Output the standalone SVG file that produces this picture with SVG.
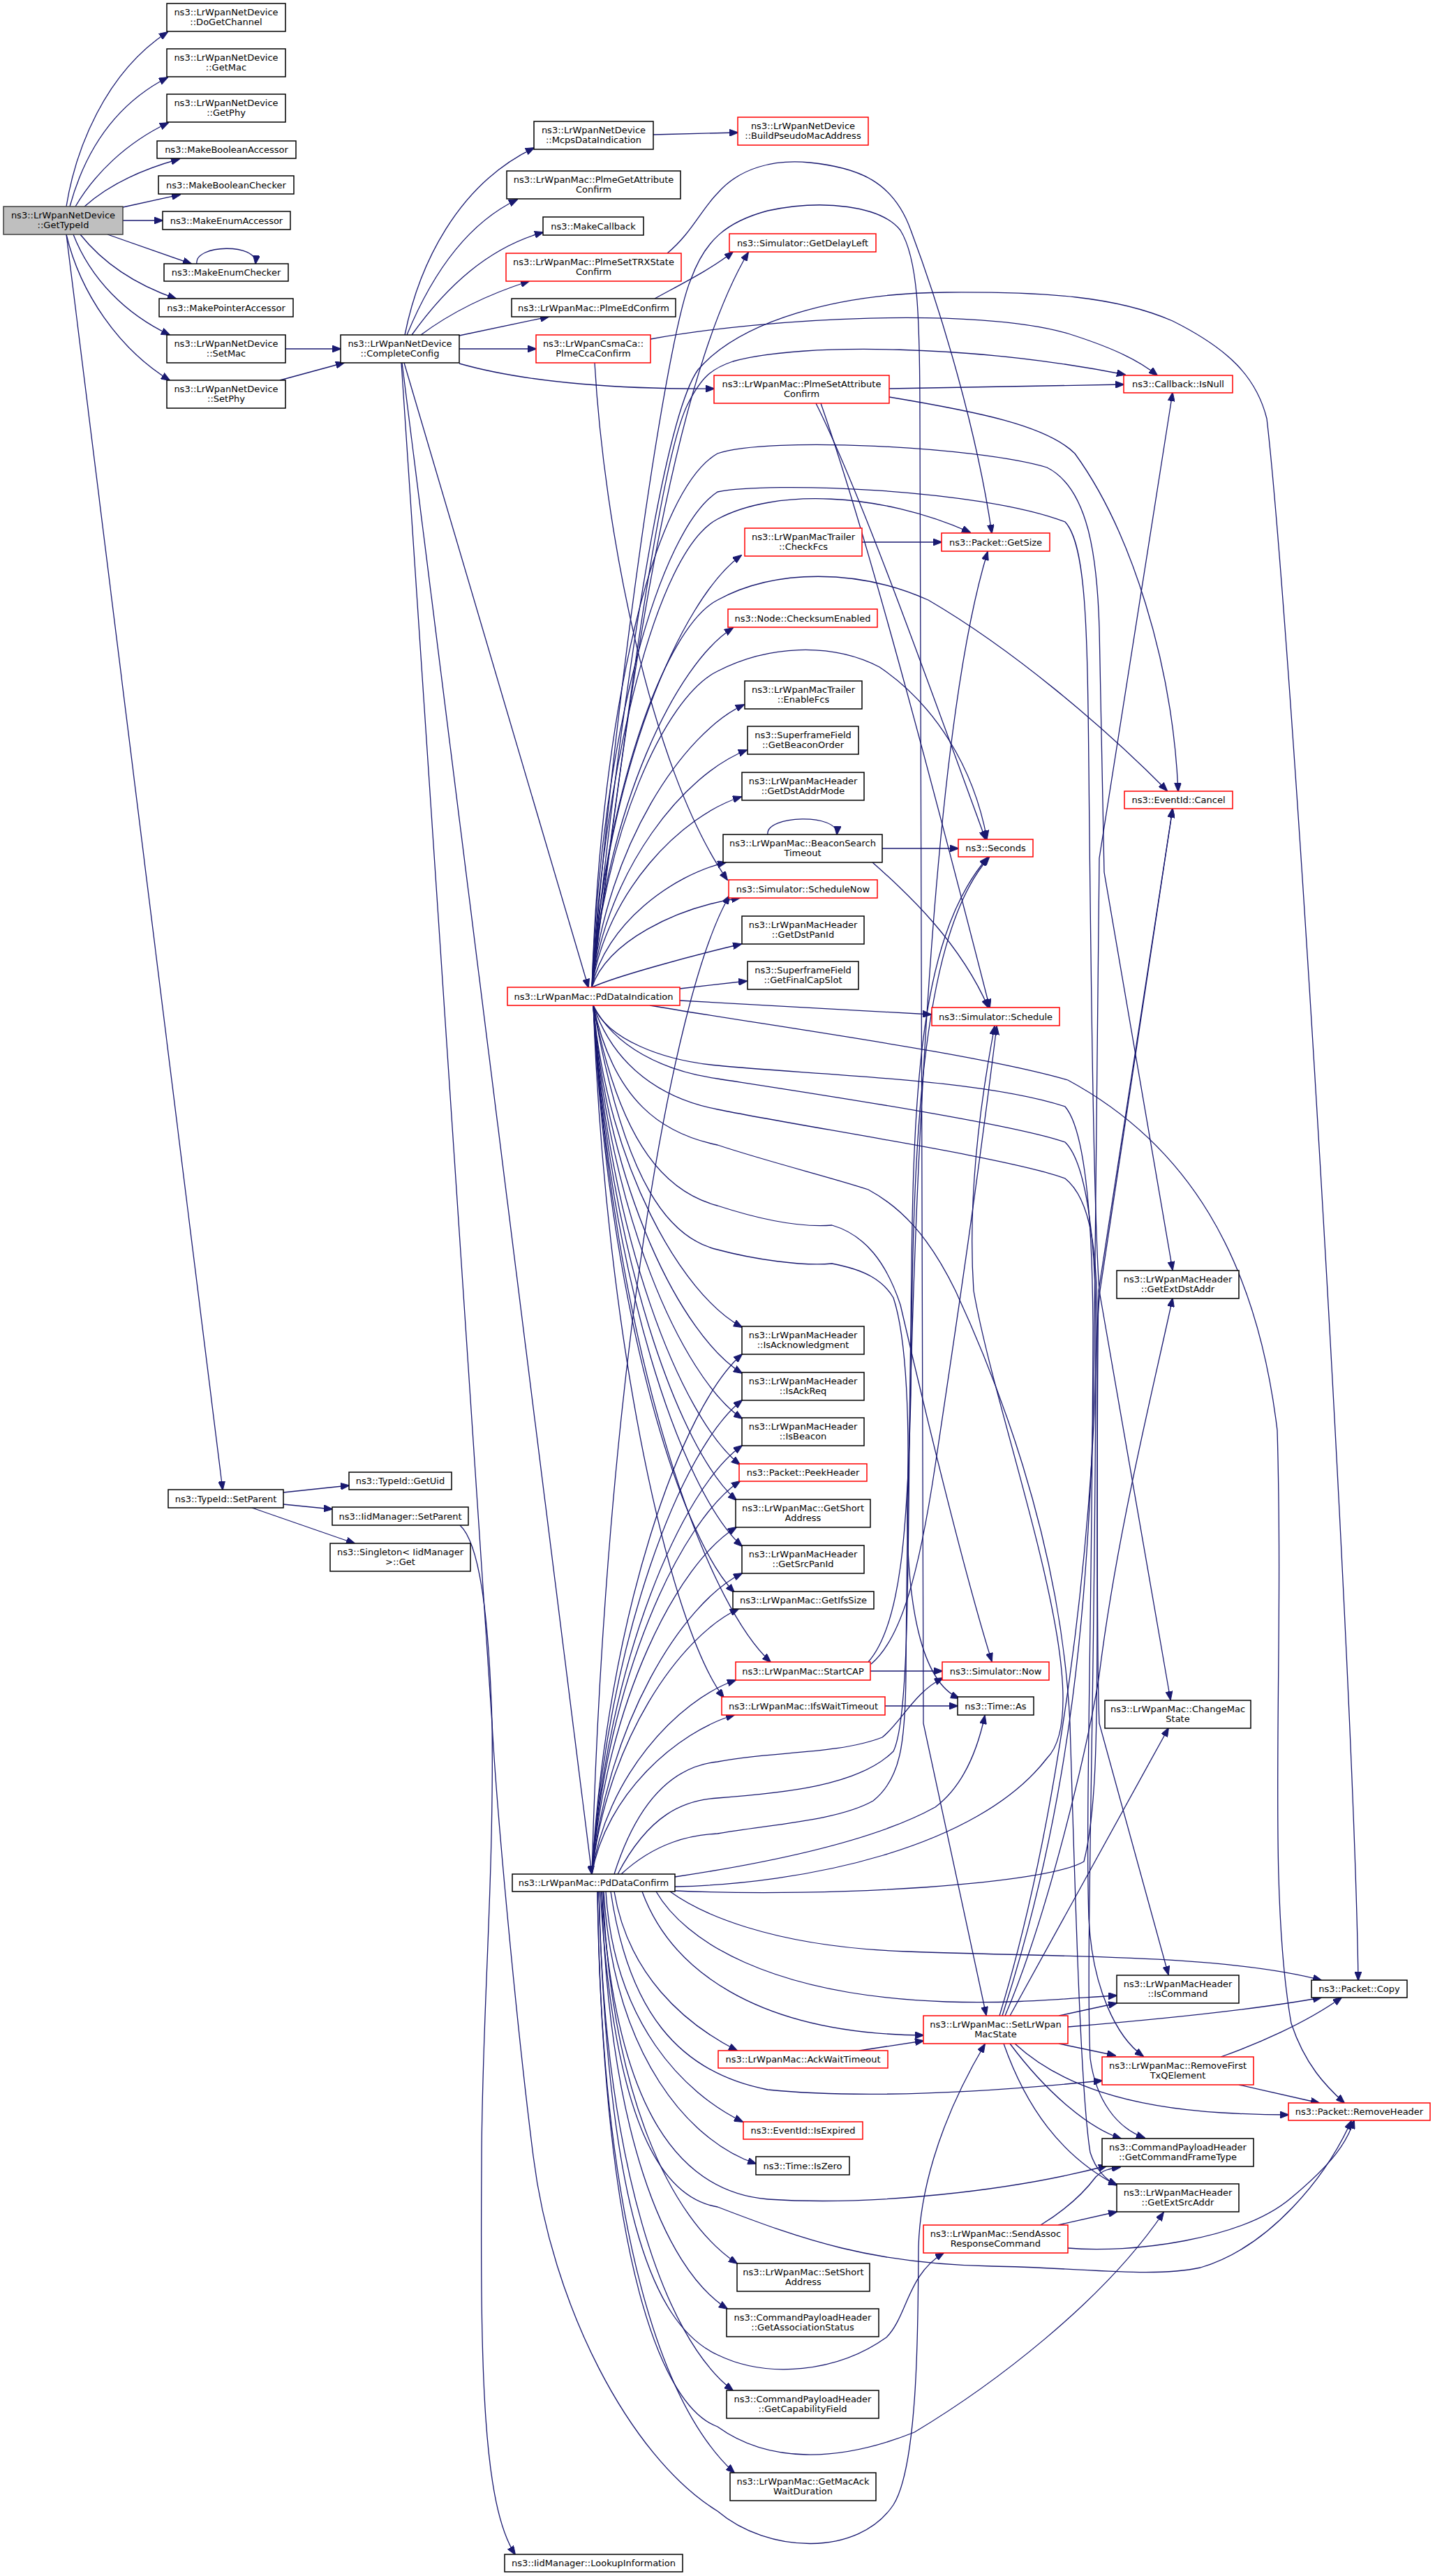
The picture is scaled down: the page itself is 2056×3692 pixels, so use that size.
<svg xmlns="http://www.w3.org/2000/svg" width="2056" height="3692" viewBox="0 0 2056 3692">
<defs>
<style>
.e{fill:none;stroke:#191970;stroke-width:1.3;marker-end:url(#a)}
.n rect{fill:#ffffff;stroke:#000000;stroke-width:1.5}
.r rect{stroke:#ff0000}
.root rect{fill:#bfbfbf;stroke:#404040}
text{font-family:"DejaVu Sans","Liberation Sans",sans-serif;font-size:13px;text-anchor:middle;fill:#000000}
</style>
<marker id="a" markerWidth="13" markerHeight="10" refX="12" refY="5" orient="auto" markerUnits="userSpaceOnUse"><path d="M0,0 L13,5 L0,10 z" fill="#191970" stroke="#191970" stroke-width="1"/></marker>
</defs>
<rect x="0" y="0" width="2056" height="3692" fill="#ffffff"/>
<g id="connectors">
<path class="e" d="M95,296 C108,215 150,105 240,46"/>
<path class="e" d="M100,296 C118,230 155,155 240,111"/>
<path class="e" d="M108,296 C135,250 180,205 241,176"/>
<path class="e" d="M121,296 C150,270 195,245 257,228"/>
<path class="e" d="M176,297 L258,279"/>
<path class="e" d="M176,316 L233,316"/>
<path class="e" d="M154,336 L274,378"/>
<path class="e" d="M115,336 C150,380 200,410 252,428"/>
<path class="e" d="M105,336 C130,400 180,450 243,480"/>
<path class="e" d="M95,336 C115,420 170,500 243,545"/>
<path class="e" d="M95,336 L319,2135"/>
<path class="e" d="M282,378 C278,350 370,348 366,378"/>
<path class="e" d="M409,500 L488,500"/>
<path class="e" d="M401,545 L493,520"/>
<path class="e" d="M580,480 C600,380 655,265 765,212"/>
<path class="e" d="M583,480 C620,390 670,320 741,286"/>
<path class="e" d="M590,480 C640,410 700,355 778,333"/>
<path class="e" d="M603,480 C650,445 705,420 758,403"/>
<path class="e" d="M658,481 L786,454"/>
<path class="e" d="M658,500 L768,500"/>
<path class="e" d="M658,521 C760,550 900,558 1023,557"/>
<path class="e" d="M579,520 L843,1415"/>
<path class="e" d="M576,520 L848,2686"/>
<path class="e" d="M575,520 L705,2470 C712,2600 740,2900 764,3090 C790,3300 900,3520 1028,3599 C1100,3660 1230,3665 1280,3590 C1318,3530 1315,3300 1316,3220 C1318,3150 1340,3050 1411,2930"/>
<path class="e" d="M936,193 L1057,190"/>
<path class="e" d="M956,363 C990,335 1005,300 1028,277 C1060,240 1110,228 1160,233 C1230,240 1280,260 1305,330 C1350,450 1400,620 1421,764"/>
<path class="e" d="M938,428 C980,405 1020,385 1050,361"/>
<path class="e" d="M932,486 C1100,455 1400,440 1530,478 C1590,497 1630,515 1658,538"/>
<path class="e" d="M852,520 C865,750 930,1100 1042,1261"/>
<path class="e" d="M1274,557 L1610,551"/>
<path class="e" d="M1274,569 C1400,590 1500,610 1540,650 C1620,760 1680,950 1688,1134"/>
<path class="e" d="M1169,578 C1230,700 1320,950 1412,1203"/>
<path class="e" d="M1176,578 C1240,760 1330,1100 1418,1444"/>
<path class="e" d="M1235,777 L1349,777"/>
<path class="e" d="M1264,1216 L1373,1216"/>
<path class="e" d="M1250,1236 C1300,1280 1375,1350 1416,1444"/>
<path class="e" d="M1100,1196 C1096,1168 1202,1165 1199,1196"/>
<path class="e" d="M406,2139 L500,2129"/>
<path class="e" d="M406,2156 L476,2163"/>
<path class="e" d="M361,2161 L508,2212"/>
<path class="e" d="M659,2186 C685,2210 700,2300 705,2470 C708,2700 690,2900 690,3100 C688,3400 692,3590 738,3661"/>
<path class="e" d="M848,1415 C900,1000 960,550 1072,362"/>
<path class="e" d="M848,1415 C895,1050 945,660 985,580 C1005,540 1020,528 1050,518 C1150,490 1400,495 1612,537"/>
<path class="e" d="M848,1415 C890,1000 950,600 1000,530 C1060,460 1200,420 1356,419 C1500,418 1600,425 1680,460 C1760,500 1800,540 1815,600 C1850,900 1940,2400 1946,2838"/>
<path class="e" d="M848,1415 C880,1000 955,480 990,400 C1010,345 1040,318 1100,302 C1180,285 1262,295 1290,330 C1315,370 1318,450 1318,600 L1323,2470 L1413,2888"/>
<path class="e" d="M848,1415 C865,1100 940,790 1028,744 C1110,700 1260,705 1390,763"/>
<path class="e" d="M848,1415 C869,1105 976,858 1062,796"/>
<path class="e" d="M848,1415 C865,1150 950,900 1028,860 C1110,815 1230,815 1330,860 C1450,930 1580,1040 1672,1133"/>
<path class="e" d="M848,1415 C868,1157 969,951 1050,900"/>
<path class="e" d="M848,1415 C865,1200 950,1000 1028,962 C1100,925 1190,920 1260,956 C1340,1010 1395,1100 1414,1202"/>
<path class="e" d="M848,1415 C870,1212 979,1050 1066,1010"/>
<path class="e" d="M848,1415 C870,1245 981,1109 1070,1075"/>
<path class="e" d="M848,1415 C869,1278 976,1169 1062,1142"/>
<path class="e" d="M848,1415 C867,1325 963,1254 1040,1236"/>
<path class="e" d="M848,1415 C870,1350 967,1301 1060,1287"/>
<path class="e" d="M848,1415 C880,1400 990,1370 1062,1353"/>
<path class="e" d="M974,1417 L1070,1406"/>
<path class="e" d="M974,1434 L1334,1454"/>
<path class="e" d="M848,1415 C862,1000 940,700 1028,650 C1100,625 1400,640 1500,670 C1560,700 1572,800 1575,900 C1578,1050 1580,1150 1582,1250 L1680,1820"/>
<path class="e" d="M848,1415 C862,1050 945,760 1028,705 C1100,690 1400,700 1526,748 C1556,780 1558,900 1560,1100 C1564,1500 1568,1750 1575,1850 L1677,2436"/>
<path class="e" d="M850,1441 C870,1490 950,1520 1028,1527 C1150,1540 1400,1545 1526,1586 C1555,1620 1565,1750 1566,1900 C1565,2300 1555,2600 1560,2750 C1565,2850 1600,2920 1638,2947"/>
<path class="e" d="M850,1441 C880,1500 950,1535 1028,1546 C1150,1565 1450,1610 1526,1637 C1560,1670 1570,1800 1570,1900 C1570,2400 1555,2800 1562,2950 C1570,3010 1600,3050 1640,3064"/>
<path class="e" d="M850,1441 C880,1530 950,1575 1028,1590 C1150,1615 1450,1660 1526,1689 C1565,1720 1572,1800 1572,1900 C1572,2200 1572,2400 1575,2470 L1674,2830"/>
<path class="e" d="M850,1441 C880,1580 950,1625 1028,1641 C1100,1665 1200,1690 1244,1705 C1290,1730 1330,1770 1369,1850 C1420,1960 1520,2200 1533,2470 C1540,2700 1548,3000 1562,3085 C1570,3110 1585,3125 1600,3131"/>
<path class="e" d="M931,1441 C1100,1470 1400,1510 1530,1548 C1700,1640 1800,1800 1830,2050 C1840,2400 1815,2700 1850,2900 C1870,2960 1900,2990 1926,3014"/>
<path class="e" d="M850,1441 C890,1650 960,1710 1028,1728 C1080,1745 1140,1760 1192,1756 C1240,1770 1270,1810 1290,1870 C1320,2000 1380,2250 1421,2381"/>
<path class="e" d="M850,1441 C895,1700 960,1775 1028,1791 C1080,1805 1150,1815 1192,1811 C1240,1820 1265,1835 1280,1860 C1300,1920 1303,2048 1300,2150 C1298,2300 1320,2410 1374,2434"/>
<path class="e" d="M850,1441 C871,1672 977,1856 1063,1902"/>
<path class="e" d="M850,1441 C871,1705 977,1915 1063,1968"/>
<path class="e" d="M850,1441 C871,1737 977,1974 1063,2033"/>
<path class="e" d="M850,1441 C871,1770 976,2033 1060,2099"/>
<path class="e" d="M850,1441 C871,1796 974,2079 1055,2150"/>
<path class="e" d="M850,1441 C871,1829 977,2138 1063,2216"/>
<path class="e" d="M850,1441 C870,1862 971,2198 1052,2282"/>
<path class="e" d="M850,1441 C876,1912 1003,2288 1104,2382"/>
<path class="e" d="M850,1441 C869,1938 962,2335 1037,2433"/>
<path class="e" d="M848,2686 C868,2572 970,2482 1052,2458"/>
<path class="e" d="M848,2686 C868,2548 970,2437 1054,2408"/>
<path class="e" d="M848,2686 C869,2496 974,2345 1058,2306"/>
<path class="e" d="M848,2686 C870,2470 977,2298 1063,2255"/>
<path class="e" d="M848,2686 C869,2437 972,2239 1055,2189"/>
<path class="e" d="M848,2686 C869,2405 975,2180 1060,2123"/>
<path class="e" d="M848,2686 C870,2379 977,2133 1063,2072"/>
<path class="e" d="M848,2686 C870,2346 977,2075 1063,2007"/>
<path class="e" d="M848,2686 C870,2313 977,2016 1063,1941"/>
<path class="e" d="M848,2686 C867,1987 961,1428 1045,1284"/>
<path class="e" d="M880,2686 C920,2560 980,2530 1028,2525 C1100,2510 1200,2515 1264,2490 C1290,2470 1310,2425 1351,2405"/>
<path class="e" d="M885,2686 C930,2600 980,2580 1028,2577 C1120,2570 1230,2560 1280,2510 C1305,2460 1300,2200 1305,1900 C1308,1600 1310,1350 1415,1229"/>
<path class="e" d="M890,2686 C940,2640 990,2630 1028,2628 C1100,2615 1200,2610 1251,2581 C1290,2550 1297,2500 1298,2400 C1300,2000 1320,1100 1415,791"/>
<path class="e" d="M967,2690 C1100,2670 1250,2640 1340,2590 C1380,2560 1400,2510 1411,2459"/>
<path class="e" d="M967,2704 C1150,2700 1400,2650 1500,2520 C1580,2440 1430,2050 1395,1850 C1385,1700 1410,1550 1425,1471"/>
<path class="e" d="M967,2710 C1200,2720 1500,2700 1553,2668 C1570,2600 1572,2500 1572,2300 C1572,2100 1572,1950 1574,1850 L1680,1160"/>
<path class="e" d="M960,2711 C1000,2740 1100,2790 1300,2797 C1500,2805 1750,2800 1893,2838"/>
<path class="e" d="M940,2711 C980,2780 1100,2860 1356,2869 C1450,2872 1520,2865 1600,2860"/>
<path class="e" d="M920,2711 C960,2820 1080,2915 1323,2917"/>
<path class="e" d="M880,2711 C900,2830 980,2900 1056,2939"/>
<path class="e" d="M875,2711 C900,2880 970,2970 1100,2995 C1250,3010 1450,2995 1579,2982"/>
<path class="e" d="M868,2711 C880,2900 980,3000 1064,3041"/>
<path class="e" d="M865,2711 C880,2950 990,3070 1083,3101"/>
<path class="e" d="M862,2711 C880,3000 960,3140 1100,3152 C1250,3162 1450,3140 1586,3104"/>
<path class="e" d="M860,2711 C880,3050 950,3150 1028,3163 C1150,3210 1250,3245 1421,3248 C1550,3250 1650,3265 1720,3250 C1820,3220 1900,3120 1936,3040"/>
<path class="e" d="M858,2711 C870,3150 930,3330 1028,3375 C1100,3410 1200,3400 1270,3350 C1300,3320 1300,3260 1352,3229"/>
<path class="e" d="M856,2711 C865,3250 950,3450 1028,3478 C1100,3530 1200,3530 1310,3486 C1420,3420 1580,3300 1667,3171"/>
<path class="e" d="M864,2711 C875,3000 960,3180 1056,3244"/>
<path class="e" d="M862,2711 C872,3050 950,3250 1042,3309"/>
<path class="e" d="M858,2711 C866,3100 950,3350 1050,3426"/>
<path class="e" d="M856,2711 C862,3200 950,3450 1052,3544"/>
<path class="e" d="M1247,2395 L1350,2395"/>
<path class="e" d="M1244,2382 C1290,2330 1300,2200 1305,2000 C1308,1700 1310,1350 1417,1229"/>
<path class="e" d="M1248,2385 C1290,2350 1316,2260 1340,2100 C1370,1900 1400,1700 1428,1471"/>
<path class="e" d="M1268,2445 L1372,2445"/>
<path class="e" d="M1231,2939 L1323,2925"/>
<path class="e" d="M1517,2889 L1600,2871"/>
<path class="e" d="M1530,2905 C1650,2895 1800,2880 1893,2863"/>
<path class="e" d="M1517,2929 L1598,2946"/>
<path class="e" d="M1454,2929 C1520,2990 1620,3020 1750,3028 C1800,3031 1820,3031 1846,3031"/>
<path class="e" d="M1447,2929 C1500,3000 1560,3050 1606,3065"/>
<path class="e" d="M1438,2929 C1470,3020 1520,3090 1600,3132"/>
<path class="e" d="M1447,2889 L1674,2477"/>
<path class="e" d="M1440,2889 C1500,2750 1560,2500 1575,2400 C1600,2200 1650,2000 1680,1861"/>
<path class="e" d="M1436,2889 C1530,2600 1566,2300 1568,1900 C1570,1600 1572,1350 1575,1230 L1680,563"/>
<path class="e" d="M1432,2889 C1520,2600 1566,2200 1570,1950 C1572,1900 1574,1870 1576,1850 L1680,1159"/>
<path class="e" d="M1749,2948 C1800,2930 1870,2900 1922,2863"/>
<path class="e" d="M1775,2988 L1890,3014"/>
<path class="e" d="M1491,3189 C1530,3165 1555,3140 1570,3120 C1580,3110 1590,3108 1605,3106"/>
<path class="e" d="M1516,3189 L1600,3170"/>
<path class="e" d="M1530,3222 C1620,3230 1780,3210 1850,3150 C1910,3100 1930,3070 1940,3039"/>
</g>
<g id="n0" class="n root"><rect x="5" y="296" width="171" height="40"/><text x="90.5" y="312.5">ns3::LrWpanNetDevice</text><text x="90.5" y="327">::GetTypeId</text></g>
<g id="n1" class="n"><rect x="239" y="5" width="170" height="40"/><text x="324" y="21.5">ns3::LrWpanNetDevice</text><text x="324" y="36">::DoGetChannel</text></g>
<g id="n2" class="n"><rect x="239" y="70" width="170" height="40"/><text x="324" y="86.5">ns3::LrWpanNetDevice</text><text x="324" y="101">::GetMac</text></g>
<g id="n3" class="n"><rect x="239" y="135" width="170" height="40"/><text x="324" y="151.5">ns3::LrWpanNetDevice</text><text x="324" y="166">::GetPhy</text></g>
<g id="n4" class="n"><rect x="225" y="202" width="199" height="25"/><text x="324.5" y="219">ns3::MakeBooleanAccessor</text></g>
<g id="n5" class="n"><rect x="227" y="252" width="194" height="26"/><text x="324" y="269.5">ns3::MakeBooleanChecker</text></g>
<g id="n6" class="n"><rect x="233" y="303" width="183" height="26"/><text x="324.5" y="320.5">ns3::MakeEnumAccessor</text></g>
<g id="n7" class="n"><rect x="235" y="378" width="178" height="25"/><text x="324" y="395">ns3::MakeEnumChecker</text></g>
<g id="n8" class="n"><rect x="228" y="428" width="192" height="26"/><text x="324" y="445.5">ns3::MakePointerAccessor</text></g>
<g id="n9" class="n"><rect x="239" y="480" width="170" height="40"/><text x="324" y="496.5">ns3::LrWpanNetDevice</text><text x="324" y="511">::SetMac</text></g>
<g id="n10" class="n"><rect x="239" y="545" width="170" height="40"/><text x="324" y="561.5">ns3::LrWpanNetDevice</text><text x="324" y="576">::SetPhy</text></g>
<g id="n11" class="n"><rect x="488" y="480" width="170" height="40"/><text x="573" y="496.5">ns3::LrWpanNetDevice</text><text x="573" y="511">::CompleteConfig</text></g>
<g id="n12" class="n"><rect x="765" y="174" width="171" height="40"/><text x="850.5" y="190.5">ns3::LrWpanNetDevice</text><text x="850.5" y="205">::McpsDataIndication</text></g>
<g id="n13" class="n"><rect x="726" y="245" width="249" height="40"/><text x="850.5" y="261.5">ns3::LrWpanMac::PlmeGetAttribute</text><text x="850.5" y="276">Confirm</text></g>
<g id="n14" class="n"><rect x="778" y="311" width="144" height="26"/><text x="850" y="328.5">ns3::MakeCallback</text></g>
<g id="n15" class="n r"><rect x="725" y="363" width="251" height="40"/><text x="850.5" y="379.5">ns3::LrWpanMac::PlmeSetTRXState</text><text x="850.5" y="394">Confirm</text></g>
<g id="n16" class="n"><rect x="733" y="428" width="235" height="26"/><text x="850.5" y="445.5">ns3::LrWpanMac::PlmeEdConfirm</text></g>
<g id="n17" class="n r"><rect x="768" y="480" width="164" height="40"/><text x="850" y="496.5">ns3::LrWpanCsmaCa::</text><text x="850" y="511">PlmeCcaConfirm</text></g>
<g id="n18" class="n r"><rect x="1057" y="168" width="187" height="40"/><text x="1150.5" y="184.5">ns3::LrWpanNetDevice</text><text x="1150.5" y="199">::BuildPseudoMacAddress</text></g>
<g id="n19" class="n r"><rect x="1045" y="335" width="210" height="26"/><text x="1150" y="352.5">ns3::Simulator::GetDelayLeft</text></g>
<g id="n20" class="n r"><rect x="1023" y="538" width="251" height="40"/><text x="1148.5" y="554.5">ns3::LrWpanMac::PlmeSetAttribute</text><text x="1148.5" y="569">Confirm</text></g>
<g id="n21" class="n r"><rect x="1610" y="538" width="156" height="25"/><text x="1688" y="555">ns3::Callback::IsNull</text></g>
<g id="n22" class="n r"><rect x="1067" y="757" width="168" height="40"/><text x="1151" y="773.5">ns3::LrWpanMacTrailer</text><text x="1151" y="788">::CheckFcs</text></g>
<g id="n23" class="n r"><rect x="1349" y="764" width="155" height="26"/><text x="1426.5" y="781.5">ns3::Packet::GetSize</text></g>
<g id="n24" class="n r"><rect x="1043" y="873" width="214" height="26"/><text x="1150" y="890.5">ns3::Node::ChecksumEnabled</text></g>
<g id="n25" class="n"><rect x="1067" y="976" width="168" height="40"/><text x="1151" y="992.5">ns3::LrWpanMacTrailer</text><text x="1151" y="1007">::EnableFcs</text></g>
<g id="n26" class="n"><rect x="1071" y="1041" width="159" height="40"/><text x="1150.5" y="1057.5">ns3::SuperframeField</text><text x="1150.5" y="1072">::GetBeaconOrder</text></g>
<g id="n27" class="n"><rect x="1063" y="1107" width="175" height="40"/><text x="1150.5" y="1123.5">ns3::LrWpanMacHeader</text><text x="1150.5" y="1138">::GetDstAddrMode</text></g>
<g id="n28" class="n"><rect x="1036" y="1196" width="228" height="40"/><text x="1150" y="1212.5">ns3::LrWpanMac::BeaconSearch</text><text x="1150" y="1227">Timeout</text></g>
<g id="n29" class="n r"><rect x="1373" y="1203" width="107" height="25"/><text x="1426.5" y="1220">ns3::Seconds</text></g>
<g id="n30" class="n r"><rect x="1611" y="1134" width="155" height="25"/><text x="1688.5" y="1151">ns3::EventId::Cancel</text></g>
<g id="n31" class="n r"><rect x="1044" y="1261" width="213" height="26"/><text x="1150.5" y="1278.5">ns3::Simulator::ScheduleNow</text></g>
<g id="n32" class="n"><rect x="1063" y="1313" width="175" height="40"/><text x="1150.5" y="1329.5">ns3::LrWpanMacHeader</text><text x="1150.5" y="1344">::GetDstPanId</text></g>
<g id="n33" class="n"><rect x="1071" y="1378" width="159" height="40"/><text x="1150.5" y="1394.5">ns3::SuperframeField</text><text x="1150.5" y="1409">::GetFinalCapSlot</text></g>
<g id="n34" class="n r"><rect x="727" y="1415" width="247" height="26"/><text x="850.5" y="1432.5">ns3::LrWpanMac::PdDataIndication</text></g>
<g id="n35" class="n r"><rect x="1335" y="1444" width="183" height="26"/><text x="1426.5" y="1461.5">ns3::Simulator::Schedule</text></g>
<g id="n36" class="n"><rect x="1600" y="1821" width="175" height="40"/><text x="1687.5" y="1837.5">ns3::LrWpanMacHeader</text><text x="1687.5" y="1852">::GetExtDstAddr</text></g>
<g id="n37" class="n"><rect x="1063" y="1901" width="175" height="40"/><text x="1150.5" y="1917.5">ns3::LrWpanMacHeader</text><text x="1150.5" y="1932">::IsAcknowledgment</text></g>
<g id="n38" class="n"><rect x="1063" y="1967" width="175" height="40"/><text x="1150.5" y="1983.5">ns3::LrWpanMacHeader</text><text x="1150.5" y="1998">::IsAckReq</text></g>
<g id="n39" class="n"><rect x="1063" y="2032" width="175" height="40"/><text x="1150.5" y="2048.5">ns3::LrWpanMacHeader</text><text x="1150.5" y="2063">::IsBeacon</text></g>
<g id="n40" class="n r"><rect x="1059" y="2098" width="183" height="25"/><text x="1150.5" y="2115">ns3::Packet::PeekHeader</text></g>
<g id="n41" class="n"><rect x="1054" y="2149" width="193" height="40"/><text x="1150.5" y="2165.5">ns3::LrWpanMac::GetShort</text><text x="1150.5" y="2180">Address</text></g>
<g id="n42" class="n"><rect x="1063" y="2215" width="175" height="40"/><text x="1150.5" y="2231.5">ns3::LrWpanMacHeader</text><text x="1150.5" y="2246">::GetSrcPanId</text></g>
<g id="n43" class="n"><rect x="1050" y="2281" width="202" height="25"/><text x="1151" y="2298">ns3::LrWpanMac::GetIfsSize</text></g>
<g id="n44" class="n r"><rect x="1054" y="2382" width="193" height="26"/><text x="1150.5" y="2399.5">ns3::LrWpanMac::StartCAP</text></g>
<g id="n45" class="n r"><rect x="1034" y="2432" width="234" height="26"/><text x="1151" y="2449.5">ns3::LrWpanMac::IfsWaitTimeout</text></g>
<g id="n46" class="n r"><rect x="1350" y="2382" width="153" height="26"/><text x="1426.5" y="2399.5">ns3::Simulator::Now</text></g>
<g id="n47" class="n"><rect x="1372" y="2432" width="109" height="26"/><text x="1426.5" y="2449.5">ns3::Time::As</text></g>
<g id="n48" class="n"><rect x="1583" y="2437" width="209" height="40"/><text x="1687.5" y="2453.5">ns3::LrWpanMac::ChangeMac</text><text x="1687.5" y="2468">State</text></g>
<g id="n49" class="n"><rect x="241" y="2135" width="165" height="26"/><text x="323.5" y="2152.5">ns3::TypeId::SetParent</text></g>
<g id="n50" class="n"><rect x="500" y="2110" width="147" height="25"/><text x="573.5" y="2127">ns3::TypeId::GetUid</text></g>
<g id="n51" class="n"><rect x="476" y="2160" width="195" height="26"/><text x="573.5" y="2177.5">ns3::IidManager::SetParent</text></g>
<g id="n52" class="n"><rect x="473" y="2212" width="201" height="40"/><text x="573.5" y="2228.5">ns3::Singleton&lt; IidManager</text><text x="573.5" y="2243">&gt;::Get</text></g>
<g id="n53" class="n"><rect x="734" y="2686" width="233" height="25"/><text x="850.5" y="2703">ns3::LrWpanMac::PdDataConfirm</text></g>
<g id="n54" class="n"><rect x="1600" y="2831" width="175" height="40"/><text x="1687.5" y="2847.5">ns3::LrWpanMacHeader</text><text x="1687.5" y="2862">::IsCommand</text></g>
<g id="n55" class="n"><rect x="1879" y="2838" width="137" height="25"/><text x="1947.5" y="2855">ns3::Packet::Copy</text></g>
<g id="n56" class="n r"><rect x="1323" y="2889" width="207" height="40"/><text x="1426.5" y="2905.5">ns3::LrWpanMac::SetLrWpan</text><text x="1426.5" y="2920">MacState</text></g>
<g id="n57" class="n r"><rect x="1029" y="2939" width="243" height="25"/><text x="1150.5" y="2956">ns3::LrWpanMac::AckWaitTimeout</text></g>
<g id="n58" class="n r"><rect x="1579" y="2948" width="217" height="40"/><text x="1687.5" y="2964.5">ns3::LrWpanMac::RemoveFirst</text><text x="1687.5" y="2979">TxQElement</text></g>
<g id="n59" class="n r"><rect x="1846" y="3014" width="203" height="25"/><text x="1947.5" y="3031">ns3::Packet::RemoveHeader</text></g>
<g id="n60" class="n r"><rect x="1065" y="3041" width="171" height="25"/><text x="1150.5" y="3058">ns3::EventId::IsExpired</text></g>
<g id="n61" class="n"><rect x="1579" y="3065" width="217" height="40"/><text x="1687.5" y="3081.5">ns3::CommandPayloadHeader</text><text x="1687.5" y="3096">::GetCommandFrameType</text></g>
<g id="n62" class="n"><rect x="1083" y="3091" width="134" height="26"/><text x="1150" y="3108.5">ns3::Time::IsZero</text></g>
<g id="n63" class="n"><rect x="1600" y="3130" width="175" height="40"/><text x="1687.5" y="3146.5">ns3::LrWpanMacHeader</text><text x="1687.5" y="3161">::GetExtSrcAddr</text></g>
<g id="n64" class="n r"><rect x="1323" y="3189" width="207" height="40"/><text x="1426.5" y="3205.5">ns3::LrWpanMac::SendAssoc</text><text x="1426.5" y="3220">ResponseCommand</text></g>
<g id="n65" class="n"><rect x="1056" y="3244" width="190" height="40"/><text x="1151" y="3260.5">ns3::LrWpanMac::SetShort</text><text x="1151" y="3275">Address</text></g>
<g id="n66" class="n"><rect x="1041" y="3309" width="218" height="40"/><text x="1150" y="3325.5">ns3::CommandPayloadHeader</text><text x="1150" y="3340">::GetAssociationStatus</text></g>
<g id="n67" class="n"><rect x="1041" y="3426" width="218" height="40"/><text x="1150" y="3442.5">ns3::CommandPayloadHeader</text><text x="1150" y="3457">::GetCapabilityField</text></g>
<g id="n68" class="n"><rect x="1046" y="3544" width="209" height="40"/><text x="1150.5" y="3560.5">ns3::LrWpanMac::GetMacAck</text><text x="1150.5" y="3575">WaitDuration</text></g>
<g id="n69" class="n"><rect x="723" y="3661" width="255" height="25"/><text x="850.5" y="3678">ns3::IidManager::LookupInformation</text></g>
</svg>
